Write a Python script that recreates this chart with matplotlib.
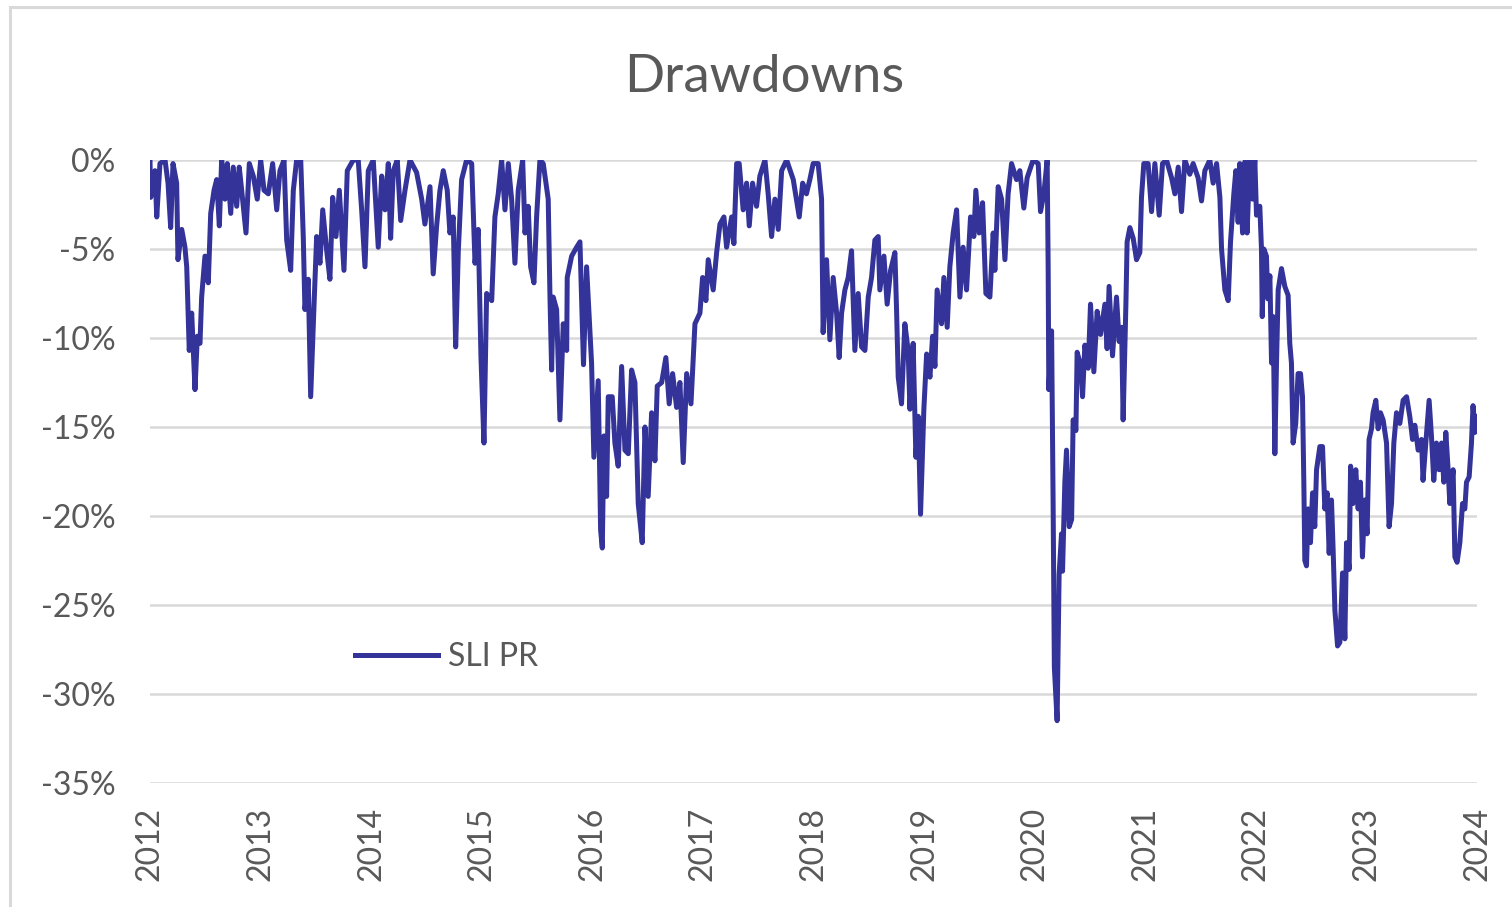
import matplotlib
matplotlib.use("Agg")
import matplotlib.pyplot as plt
from matplotlib.patches import Rectangle

# SLI PR drawdown (%), time in decimal years
years = [
    2012.000, 2012.006, 2012.045, 2012.061, 2012.090, 2012.136, 2012.163, 2012.187, 2012.208, 2012.241,
    2012.253, 2012.287, 2012.316, 2012.332, 2012.355, 2012.377, 2012.407, 2012.428, 2012.452, 2012.467,
    2012.497, 2012.527, 2012.549, 2012.579, 2012.603, 2012.627, 2012.648, 2012.678, 2012.699, 2012.730,
    2012.753, 2012.784, 2012.807, 2012.829, 2012.868, 2012.898, 2012.934, 2012.970, 2013.001, 2013.031,
    2013.070, 2013.109, 2013.146, 2013.175, 2013.212, 2013.236, 2013.272, 2013.296, 2013.326, 2013.363,
    2013.386, 2013.401, 2013.431, 2013.453, 2013.483, 2013.507, 2013.537, 2013.562, 2013.598, 2013.627,
    2013.652, 2013.682, 2013.712, 2013.754, 2013.784, 2013.838, 2013.883, 2013.914, 2013.944, 2013.974,
    2014.019, 2014.064, 2014.095, 2014.125, 2014.155, 2014.176, 2014.200, 2014.236, 2014.267, 2014.306,
    2014.351, 2014.411, 2014.457, 2014.486, 2014.532, 2014.561, 2014.592, 2014.622, 2014.652, 2014.688,
    2014.712, 2014.742, 2014.764, 2014.788, 2014.818, 2014.863, 2014.909, 2014.939, 2014.968, 2014.993,
    2015.020, 2015.044, 2015.090, 2015.119, 2015.149, 2015.180, 2015.210, 2015.240, 2015.270, 2015.300,
    2015.330, 2015.370, 2015.391, 2015.420, 2015.442, 2015.472, 2015.496, 2015.526, 2015.556, 2015.601,
    2015.617, 2015.632, 2015.646, 2015.677, 2015.707, 2015.737, 2015.768, 2015.773, 2015.813, 2015.858,
    2015.888, 2015.920, 2015.948, 2015.993, 2016.014, 2016.053, 2016.075, 2016.090, 2016.105, 2016.129,
    2016.144, 2016.180, 2016.204, 2016.234, 2016.265, 2016.295, 2016.325, 2016.355, 2016.385, 2016.415,
    2016.451, 2016.476, 2016.505, 2016.536, 2016.566, 2016.587, 2016.627, 2016.665, 2016.695, 2016.726,
    2016.762, 2016.792, 2016.822, 2016.853, 2016.892, 2016.928, 2016.973, 2016.997, 2017.027, 2017.048,
    2017.093, 2017.124, 2017.154, 2017.190, 2017.214, 2017.260, 2017.280, 2017.305, 2017.328, 2017.364,
    2017.395, 2017.419, 2017.449, 2017.485, 2017.515, 2017.561, 2017.590, 2017.621, 2017.651, 2017.681,
    2017.712, 2017.757, 2017.817, 2017.871, 2017.902, 2017.936, 2017.967, 2017.997, 2018.042, 2018.073,
    2018.087, 2018.118, 2018.148, 2018.178, 2018.209, 2018.232, 2018.254, 2018.284, 2018.314, 2018.344,
    2018.374, 2018.404, 2018.435, 2018.465, 2018.495, 2018.525, 2018.555, 2018.585, 2018.600, 2018.637,
    2018.666, 2018.697, 2018.736, 2018.751, 2018.766, 2018.796, 2018.826, 2018.856, 2018.872, 2018.901,
    2018.926, 2018.947, 2018.968, 2018.998, 2019.023, 2019.053, 2019.077, 2019.098, 2019.118, 2019.158,
    2019.179, 2019.209, 2019.233, 2019.263, 2019.294, 2019.324, 2019.353, 2019.384, 2019.420, 2019.450,
    2019.468, 2019.498, 2019.529, 2019.559, 2019.595, 2019.625, 2019.640, 2019.670, 2019.701, 2019.731,
    2019.760, 2019.791, 2019.836, 2019.866, 2019.902, 2019.932, 2019.986, 2020.032, 2020.053, 2020.083,
    2020.113, 2020.122, 2020.128, 2020.153, 2020.167, 2020.178, 2020.203, 2020.221, 2020.243, 2020.252,
    2020.273, 2020.288, 2020.312, 2020.334, 2020.348, 2020.373, 2020.384, 2020.415, 2020.433, 2020.454,
    2020.484, 2020.505, 2020.535, 2020.565, 2020.596, 2020.635, 2020.655, 2020.673, 2020.704, 2020.740,
    2020.764, 2020.786, 2020.800, 2020.825, 2020.836, 2020.861, 2020.891, 2020.921, 2020.951, 2020.966,
    2020.987, 2021.026, 2021.057, 2021.087, 2021.126, 2021.156, 2021.192, 2021.238, 2021.268, 2021.298,
    2021.328, 2021.358, 2021.403, 2021.433, 2021.478, 2021.509, 2021.539, 2021.584, 2021.614, 2021.645,
    2021.675, 2021.690, 2021.720, 2021.750, 2021.771, 2021.801, 2021.819, 2021.840, 2021.855, 2021.880,
    2021.901, 2021.921, 2021.945, 2021.970, 2021.991, 2022.006, 2022.036, 2022.051, 2022.058, 2022.072,
    2022.096, 2022.108, 2022.127, 2022.142, 2022.157, 2022.172, 2022.187, 2022.202, 2022.232, 2022.262,
    2022.292, 2022.307, 2022.322, 2022.337, 2022.361, 2022.382, 2022.404, 2022.422, 2022.434, 2022.443,
    2022.458, 2022.473, 2022.494, 2022.513, 2022.533, 2022.549, 2022.579, 2022.603, 2022.624, 2022.645,
    2022.663, 2022.684, 2022.699, 2022.715, 2022.739, 2022.760, 2022.784, 2022.805, 2022.820, 2022.844,
    2022.857, 2022.879, 2022.904, 2022.925, 2022.946, 2022.964, 2022.985, 2023.006, 2023.024, 2023.046,
    2023.060, 2023.085, 2023.106, 2023.127, 2023.151, 2023.182, 2023.205, 2023.227, 2023.248, 2023.272,
    2023.302, 2023.332, 2023.363, 2023.392, 2023.417, 2023.438, 2023.468, 2023.498, 2023.512, 2023.537,
    2023.567, 2023.588, 2023.609, 2023.633, 2023.657, 2023.679, 2023.700, 2023.718, 2023.739, 2023.754,
    2023.784, 2023.800, 2023.820, 2023.845, 2023.869, 2023.890, 2023.905, 2023.929, 2023.950, 2023.964,
    2023.983, 2023.996,
]

drawdown = [
    0.0, -2.1, -0.6, -3.2, -0.2, 0.0, -1.3, -3.8, -0.2, -1.3,
    -5.6, -3.9, -4.9, -6.0, -10.7, -8.6, -12.9, -9.9, -10.3, -7.7,
    -5.4, -6.9, -3.0, -1.7, -1.1, -3.7, 0.0, -2.2, -0.2, -3.0,
    -0.4, -2.6, -0.4, -1.7, -4.1, -0.2, -0.9, -2.2, 0.0, -1.7,
    -1.9, -0.2, -2.8, -0.6, 0.0, -4.5, -6.2, -1.7, 0.0, 0.0,
    -4.3, -8.4, -6.7, -13.3, -8.2, -4.3, -5.8, -2.8, -5.1, -6.7,
    -2.1, -4.3, -1.7, -6.2, -0.6, 0.0, 0.0, -2.8, -6.0, -0.6,
    0.0, -4.9, -0.9, -2.8, -0.2, -4.4, -0.6, 0.0, -3.4, -1.7,
    0.0, -0.7, -2.2, -3.6, -1.5, -6.4, -3.7, -1.7, -0.6, -1.7,
    -4.1, -3.2, -10.5, -5.1, -1.1, 0.0, -0.2, -5.8, -3.9, -11.1,
    -15.9, -7.5, -7.9, -3.2, -1.9, 0.0, -2.8, -0.2, -2.2, -5.8,
    -1.7, 0.0, -4.1, -2.6, -6.0, -6.9, -3.2, 0.0, -0.2, -2.2,
    -7.7, -11.8, -7.7, -8.4, -14.6, -9.2, -10.7, -6.6, -5.4, -4.9,
    -4.6, -11.5, -6.0, -11.4, -16.7, -12.4, -20.8, -21.8, -15.5, -18.9,
    -13.3, -13.3, -15.9, -17.2, -11.6, -16.3, -16.5, -11.8, -12.5, -19.3,
    -21.5, -15.0, -18.9, -14.2, -16.9, -12.7, -12.5, -11.1, -13.7, -12.0,
    -13.9, -12.5, -17.0, -12.0, -13.7, -9.2, -8.6, -6.6, -7.9, -5.6,
    -7.3, -5.2, -3.6, -3.2, -4.9, -3.2, -4.7, -0.2, -0.2, -2.8,
    -1.3, -3.7, -1.3, -2.6, -0.9, 0.0, -1.9, -4.3, -2.2, -3.9,
    -0.6, 0.0, -1.1, -3.2, -1.3, -1.9, -1.1, -0.2, -0.2, -2.2,
    -9.7, -5.6, -10.1, -6.6, -8.6, -11.1, -8.6, -7.3, -6.6, -5.1,
    -10.7, -7.5, -10.5, -10.7, -7.7, -6.6, -4.5, -4.3, -7.3, -5.4,
    -8.1, -6.2, -5.2, -8.4, -12.2, -13.7, -9.2, -10.7, -14.0, -10.3,
    -16.7, -14.4, -19.9, -14.0, -10.9, -12.2, -9.9, -11.6, -7.3, -9.2,
    -6.6, -9.4, -6.0, -4.1, -2.8, -7.7, -4.9, -7.3, -3.2, -4.3,
    -1.7, -4.1, -2.4, -7.5, -7.7, -4.1, -6.2, -1.5, -2.2, -5.6,
    -1.9, -0.2, -1.1, -0.6, -2.7, -1.0, 0.0, -0.2, -2.9, -1.9,
    0.0, -6.0, -12.9, -9.6, -19.4, -28.5, -31.5, -23.3, -21.0, -23.1,
    -18.1, -16.3, -20.6, -20.2, -14.6, -15.2, -10.8, -11.5, -13.3, -10.4,
    -11.7, -8.1, -11.9, -8.5, -9.8, -8.1, -10.6, -7.1, -11.0, -7.7,
    -10.2, -9.4, -14.6, -8.1, -4.6, -3.8, -4.4, -5.6, -5.2, -2.1,
    -0.2, -0.2, -2.9, -0.2, -3.1, -0.2, 0.0, -1.0, -1.9, -0.4,
    -2.9, 0.0, -0.8, -0.2, -1.0, -2.3, -0.6, 0.0, -1.3, -0.2,
    -2.1, -5.0, -7.3, -7.9, -4.6, -1.9, -0.6, -3.5, -0.2, -4.1,
    -0.1, -4.1, 0.0, -2.2, 0.0, -3.1, -2.6, -5.0, -8.8, -5.0,
    -5.4, -7.8, -6.5, -11.4, -8.8, -16.5, -11.4, -7.3, -6.1, -7.1,
    -7.6, -10.3, -11.4, -15.9, -14.8, -12.0, -12.0, -13.3, -18.1, -22.5,
    -22.8, -19.6, -21.5, -18.7, -20.6, -17.4, -16.1, -16.1, -19.6, -18.7,
    -22.1, -19.1, -21.9, -25.3, -27.3, -27.1, -23.2, -26.9, -21.5, -23.0,
    -17.2, -19.3, -17.4, -19.6, -18.1, -22.3, -19.1, -21.0, -15.7, -15.1,
    -14.2, -13.5, -15.1, -14.2, -14.6, -15.9, -20.6, -19.3, -15.9, -14.2,
    -14.8, -13.5, -13.3, -14.4, -15.7, -14.9, -16.3, -15.7, -18.0, -15.9,
    -13.5, -15.5, -18.0, -15.9, -17.4, -15.9, -18.1, -15.3, -17.4, -19.3,
    -17.4, -22.3, -22.6, -21.5, -19.3, -19.6, -18.1, -17.8, -15.9, -13.8,
    -15.3, -14.4,
]

series_name = "SLI PR"
x_ticks = list(range(2012, 2025))
y_ticks = [-35, -30, -25, -20, -15, -10, -5, 0]
y_labels = ["-35%", "-30%", "-25%", "-20%", "-15%", "-10%", "-5%", "0%"]

plt.rcParams['font.family'] = ['Lato', 'DejaVu Sans']
text_color = '#595959'
grid_color = '#D9D9D9'

fig = plt.figure(figsize=(15.12, 9.07), dpi=100)
ax = fig.add_axes([150 / 1512, 1 - 783 / 907, 1327 / 1512, 623 / 907])

ax.plot(years, drawdown, color='#333399', lw=3.6, label=series_name, solid_joinstyle='round')

ax.set_xlim(2012, 2024)
ax.set_ylim(-35, 0)
ax.set_xticks(x_ticks)
ax.set_xticklabels([str(y) for y in x_ticks], rotation=90)
ax.set_yticks(y_ticks)
ax.set_yticklabels(y_labels)
ax.tick_params(axis='both', length=0, labelsize=23, labelcolor=text_color)
ax.tick_params(axis='y', pad=25)
ax.tick_params(axis='x', pad=17)
ax.grid(axis='y', color=grid_color, lw=1.8)
ax.grid(axis='x', visible=False)
ax.set_axisbelow(True)
for s in ax.spines.values():
    s.set_visible(False)

ax.legend(loc='center left', bbox_to_anchor=(205 / 1327, 126 / 623), frameon=False,
          fontsize=23, labelcolor=text_color, handlelength=2.6, handletextpad=0.3,
          borderpad=0, borderaxespad=0)

fig.text(764 / 1512, 1 - 77 / 907, "Drawdowns", ha='center', va='center',
         fontsize=38, color=text_color)

# chart area border
fig.patches.append(Rectangle((10 / 1512, -0.05), 1.2, 1 - 7 / 907 + 0.05, transform=fig.transFigure,
                             fill=False, edgecolor=grid_color, lw=2.2))

fig.savefig("out.png", dpi=100)
